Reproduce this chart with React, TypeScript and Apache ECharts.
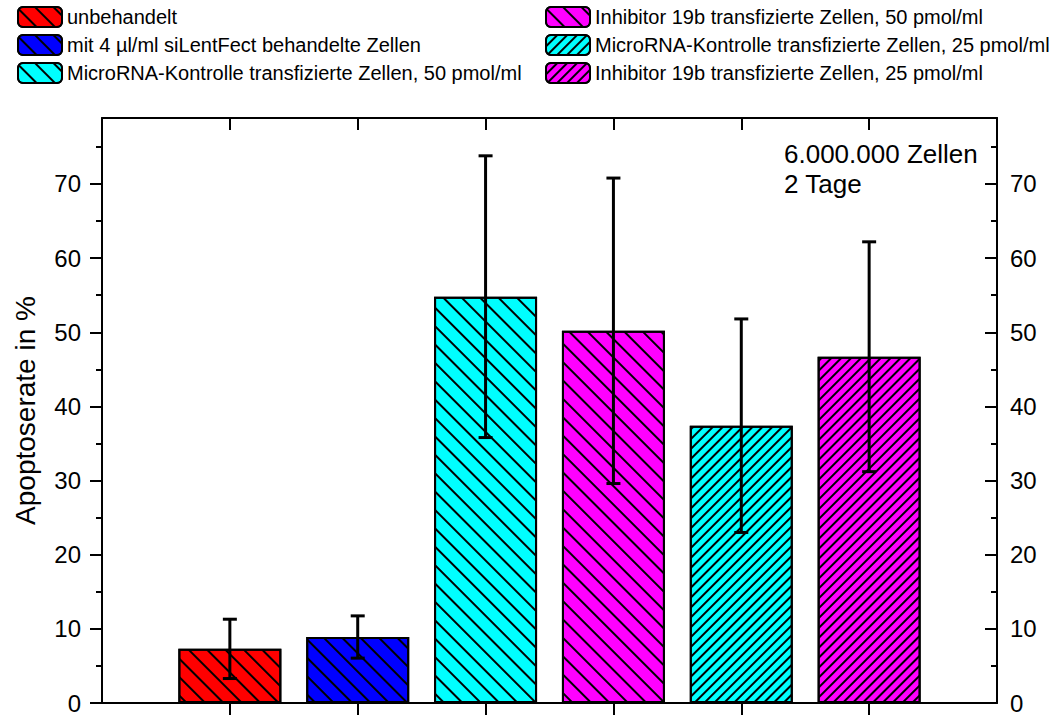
import React, { useEffect, useRef } from "react";
import * as echarts from "echarts";

const seriesNames = [
  "unbehandelt",
  "mit 4 µl/ml siLentFect behandelte Zellen",
  "MicroRNA-Kontrolle transfizierte Zellen, 50 pmol/ml",
  "Inhibitor 19b transfizierte Zellen, 50 pmol/ml",
  "MicroRNA-Kontrolle transfizierte Zellen, 25 pmol/ml",
  "Inhibitor 19b transfizierte Zellen, 25 pmol/ml",
];
const positions = [1, 2, 3, 4, 5, 6];
const means = [7.3, 8.9, 54.8, 50.2, 37.4, 46.7];
const errors = [4.0, 2.85, 19.0, 20.6, 14.4, 15.5];
const colors = ["#ff0000", "#0000ff", "#00ffff", "#ff00ff", "#00ffff", "#ff00ff"];
const dense = [false, false, false, false, true, true];
const majorTicks = [0, 10, 20, 30, 40, 50, 60, 70];
const minorTicks = [5, 15, 25, 35, 45, 55, 65, 75];
const annotationLines = ["6.000.000 Zellen", "2 Tage"];
const yName = "Apoptoserate in %";

const FONT = "'Liberation Sans', Arial, Helvetica, sans-serif";

export default function App() {
  const ref = useRef<HTMLDivElement>(null);
  useEffect(() => {
    document.body.style.margin = "0";
    if (!ref.current) return;
    const chart = echarts.init(ref.current, null, { renderer: "svg" });

    const sparseDecal = {
      symbol: "rect",
      symbolSize: 1,
      dashArrayX: [1, 0],
      dashArrayY: [1.3, 10.7],
      rotation: Math.PI / 4,
      color: "#000",
    };
    const denseDecal = {
      symbol: "rect",
      symbolSize: 1,
      dashArrayX: [1, 0],
      dashArrayY: [1.2, 4.6],
      rotation: -Math.PI / 4,
      color: "#000",
    };

    const barSeries = seriesNames.map((name, i) => ({
      type: "bar",
      name,
      xAxisIndex: 0,
      yAxisIndex: 0,
      barWidth: 103,
      barGap: "-100%",
      data: [[positions[i], means[i]]],
      itemStyle: {
        color: colors[i],
        borderColor: "#000",
        borderWidth: 2,
        decal: dense[i] ? denseDecal : sparseDecal,
      },
      emphasis: { disabled: true },
    }));

    const errData = positions.map((p, i) => [p, means[i] - errors[i], means[i] + errors[i]]);

    const errSeries = {
      type: "custom",
      xAxisIndex: 0,
      yAxisIndex: 0,
      data: errData,
      encode: { x: 0, y: [1, 2] },
      z: 10,
      renderItem: (params: any, api: any) => {
        const x = api.value(0);
        const lo = api.coord([x, api.value(1)]);
        const hi = api.coord([x, api.value(2)]);
        const cap = 7;
        const st = { stroke: "#000", lineWidth: 3 };
        return {
          type: "group",
          children: [
            { type: "line", shape: { x1: lo[0], y1: lo[1], x2: hi[0], y2: hi[1] }, style: st },
            { type: "line", shape: { x1: hi[0] - cap, y1: hi[1], x2: hi[0] + cap, y2: hi[1] }, style: st },
            { type: "line", shape: { x1: lo[0] - cap, y1: lo[1], x2: lo[0] + cap, y2: lo[1] }, style: st },
          ],
        };
      },
    };

    const lineStyle = { color: "#000", width: 2 };
    const yBase = {
      type: "value",
      min: 0,
      max: 78.9,
      splitLine: { show: false },
    };

    const legendBase = {
      orient: "vertical",
      top: 6,
      padding: 0,
      itemWidth: 44,
      itemHeight: 20,
      itemGap: 6,
      selectedMode: false,
      textStyle: { fontFamily: FONT, fontSize: 20, lineHeight: 20, color: "#000" },
    };

    chart.setOption({
      animation: false,
      grid: {
        left: 102,
        right: 58,
        top: 118,
        bottom: 12,
        containLabel: false,
        outerBoundsMode: "none",
      },
      legend: [
        { ...legendBase, data: seriesNames.slice(0, 3), left: 17 },
        { ...legendBase, data: seriesNames.slice(3), left: 545 },
      ],
      xAxis: [
        {
          type: "value",
          position: "bottom",
          min: 0,
          max: 7,
          axisLine: { show: true, onZero: false, lineStyle },
          axisTick: { show: true, inside: false, length: 12, lineStyle, customValues: positions },
          axisLabel: { show: false },
          splitLine: { show: false },
        },
        {
          type: "value",
          position: "top",
          min: 0,
          max: 7,
          axisLine: { show: true, onZero: false, lineStyle },
          axisTick: { show: true, inside: true, length: 12, lineStyle, customValues: positions },
          axisLabel: { show: false },
          splitLine: { show: false },
        },
      ],
      yAxis: [
        {
          ...yBase,
          position: "left",
          name: yName,
          nameLocation: "middle",
          nameGap: 63,
          nameTextStyle: { fontFamily: FONT, fontSize: 28, color: "#000" },
          axisLine: { show: true, onZero: false, lineStyle },
          axisTick: { show: true, inside: false, length: 12, lineStyle, customValues: majorTicks },
          axisLabel: {
            show: true,
            margin: 21,
            fontFamily: FONT,
            fontSize: 24,
            lineHeight: 20,
            color: "#000",
            customValues: majorTicks,
          },
        },
        {
          ...yBase,
          position: "left",
          axisLine: { show: false, onZero: false },
          axisTick: { show: true, inside: false, length: 6, lineStyle, customValues: minorTicks },
          axisLabel: { show: false },
        },
        {
          ...yBase,
          position: "right",
          axisLine: { show: true, onZero: false, lineStyle },
          axisTick: { show: true, inside: true, length: 12, lineStyle, customValues: majorTicks },
          axisLabel: {
            show: true,
            margin: 13,
            fontFamily: FONT,
            fontSize: 24,
            lineHeight: 20,
            color: "#000",
            customValues: majorTicks,
          },
        },
        {
          ...yBase,
          position: "right",
          axisLine: { show: false, onZero: false },
          axisTick: { show: true, inside: true, length: 6, lineStyle, customValues: minorTicks },
          axisLabel: { show: false },
        },
      ],
      graphic: [
        {
          type: "text",
          left: 784,
          top: 139,
          style: {
            text: annotationLines.join("\n"),
            fontFamily: FONT,
            fontSize: 26,
            lineHeight: 30,
            fill: "#000",
          },
        },
      ],
      series: [...barSeries, errSeries],
    });

    return () => chart.dispose();
  }, []);

  return <div ref={ref} style={{ width: 1055, height: 715 }} />;
}
